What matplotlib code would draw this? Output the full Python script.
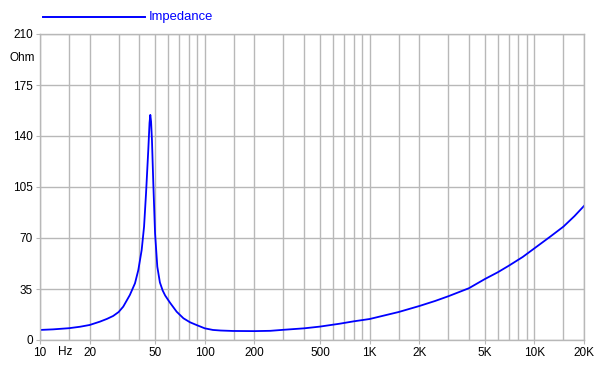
import numpy as np
import matplotlib
matplotlib.use("Agg")
import matplotlib.pyplot as plt
from matplotlib.ticker import FixedLocator, NullFormatter

plt.rcParams['font.family'] = ['Liberation Sans', 'DejaVu Sans']

# impedance curve (Hz, Ohm)
freq = [10, 12, 15, 17.5, 20, 23.1, 25.5, 27.8, 30, 32, 35.1, 37.7, 39.5, 41.4,
        42.8, 44.0, 45.4, 46.2, 46.7, 47.2, 47.8, 48.7, 49.9, 51.5, 53.4, 55.5,
        57.5, 61.5, 67.5, 74.2, 81.2, 89, 100, 112, 125, 148, 200, 250, 300,
        400, 500, 660, 800, 1000, 1500, 2000, 2500, 3000, 4000, 5000, 6000,
        7000, 8500, 10000, 12500, 15000, 17500, 20000]
ohm = [6.9, 7.3, 8.1, 9.1, 10.3, 12.6, 14.5, 16.5, 19.2, 22.9, 30.9, 38.9, 48.0,
       61.8, 77.8, 100.7, 130.4, 149.0, 154.5, 150.0, 137.0, 107.5, 73.4, 50.3,
       39.5, 34.0, 30.5, 25.6, 19.4, 14.9, 12.2, 10.3, 8.0, 6.9, 6.5, 6.2, 6.1,
       6.3, 7.0, 8.0, 9.2, 11.2, 12.8, 14.4, 19.2, 23.3, 26.8, 30.0, 35.5, 41.8,
       46.5, 51.0, 57.0, 62.9, 71.0, 77.8, 85.0, 92.0]

x_major = [10, 20, 50, 100, 200, 500, 1000, 2000, 5000, 10000, 20000]
x_labels = ['10', '20', '50', '100', '200', '500', '1K', '2K', '5K', '10K', '20K']
x_grid = [10, 15, 20, 30, 40, 50, 60, 70, 80, 90, 100, 150, 200, 300, 400, 500,
          600, 700, 800, 900, 1000, 1500, 2000, 3000, 4000, 5000, 6000, 7000,
          8000, 9000, 10000, 15000, 20000]
y_ticks = [0, 35, 70, 105, 140, 175, 210]

GRID = '#b8b8b8'
BLUE = '#0000ff'

fig = plt.figure(figsize=(6.05, 3.65), dpi=100)
ax = fig.add_axes([40 / 605, 25 / 365, 544 / 605, 306 / 365])

ax.plot(freq, ohm, color=BLUE, lw=1.3)

ax.set_xscale('log')
ax.set_xlim(10, 20000)
ax.set_ylim(0, 210)

ax.xaxis.set_major_locator(FixedLocator(x_major))
ax.set_xticklabels(x_labels)
ax.xaxis.set_minor_locator(FixedLocator(x_grid))
ax.xaxis.set_minor_formatter(NullFormatter())
ax.set_yticks(y_ticks)

for x in x_grid:
    ax.axvline(x, color=GRID, lw=1, zorder=0)
for y in y_ticks:
    ax.axhline(y, color=GRID, lw=1, zorder=0)

for s in ax.spines.values():
    s.set_color(GRID)
    s.set_linewidth(1)

ax.tick_params(axis='both', which='major', length=3, color=GRID,
               labelsize=8.5, pad=2)
ax.tick_params(axis='x', which='minor', length=0)

# unit labels
fig.text(10 / 605, 1 - 58 / 365, 'Ohm', fontsize=8.5, va='center', ha='left')
fig.text(65 / 605, 1 - 352 / 365, 'Hz', fontsize=8.5, va='center', ha='center')

# legend
fig.add_artist(plt.Line2D([43 / 605, 145 / 605], [1 - 17 / 365, 1 - 17 / 365],
                          color=BLUE, lw=1.4))
fig.text(149 / 605, 1 - 17 / 365, 'Impedance', color=BLUE, fontsize=9.4,
         va='center', ha='left')

fig.savefig('out.png', dpi=100)
